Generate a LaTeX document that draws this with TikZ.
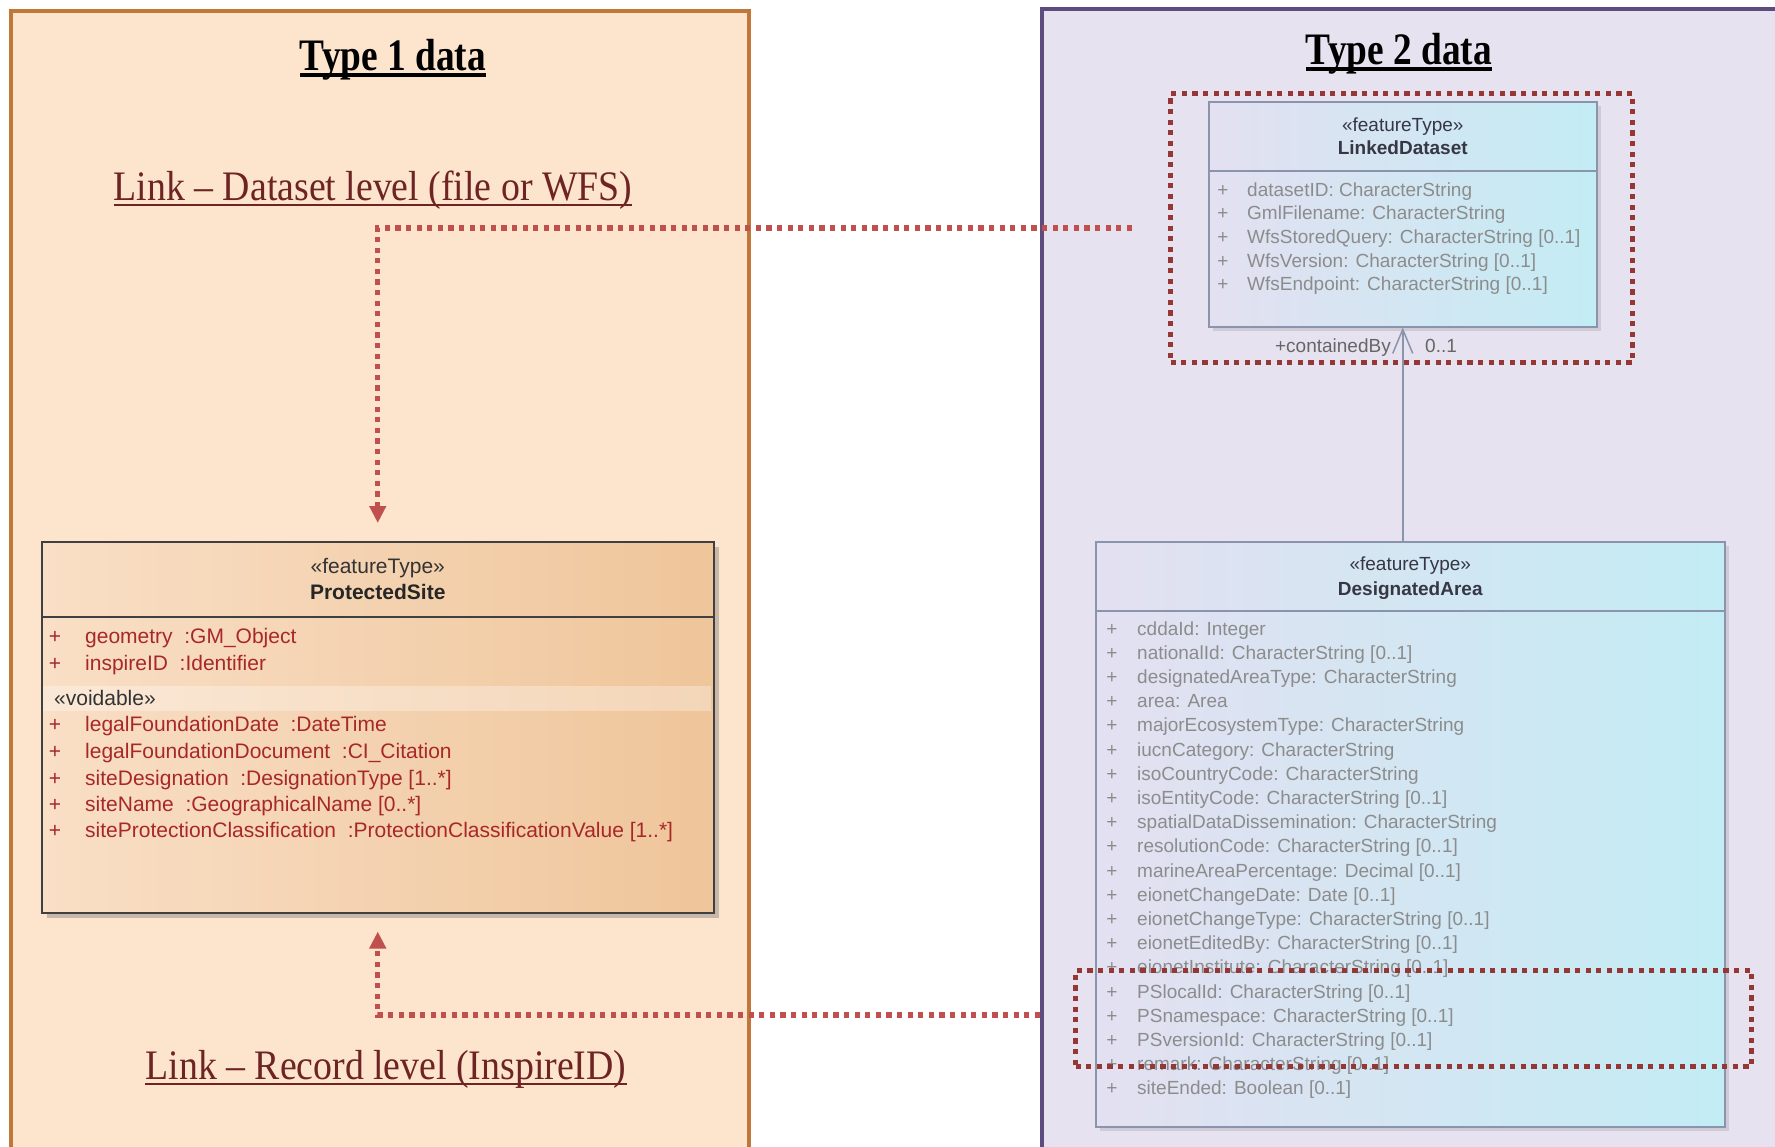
\documentclass[tikz,border=0pt]{standalone}
\usepackage{fontspec}
\setmainfont{Liberation Serif}
\newfontfamily\umlfont{Liberation Sans}
\usetikzlibrary{arrows.meta,shadows}
\definecolor{peachbg}{HTML}{FDE4CD}
\definecolor{peachline}{HTML}{C07838}
\definecolor{lavbg}{HTML}{E7E2EF}
\definecolor{lavline}{HTML}{5C4C80}
\definecolor{linkred}{HTML}{6E2424}
\definecolor{dotred}{HTML}{C0504D}
\definecolor{boxred}{HTML}{953735}
\definecolor{psleft}{HTML}{F9DFC6}
\definecolor{psright}{HTML}{EFC59A}
\definecolor{blleft}{HTML}{E3E0F1}
\definecolor{blright}{HTML}{C3ECF4}
\definecolor{blline}{HTML}{8A94AC}
\definecolor{psattr}{HTML}{A82828}
\definecolor{graytxt}{HTML}{8C8C8C}
\definecolor{headtxt}{HTML}{363644}
\tikzset{
  panel/.style={line width=4pt, inner sep=0pt, anchor=north west},
  titletxt/.style={inner sep=0pt, font=\fontsize{45}{54}\selectfont\bfseries, text=black},
  linktxt/.style={inner sep=0pt, font=\fontsize{42}{50}\selectfont, text=linkred},
  psbox/.style={draw=black!75, line width=1.5pt, left color=psleft, right color=psright, anchor=north west, inner sep=0pt,
    drop shadow={shadow xshift=5pt, shadow yshift=-5pt, opacity=0.35, fill=black!60}},
  bluebox/.style={draw=blline, line width=1.5pt, left color=blleft, right color=blright, anchor=north west, inner sep=0pt,
    drop shadow={shadow xshift=4pt, shadow yshift=-4pt, opacity=0.18, fill=black!60}},
  pstext/.style={inner sep=0pt, font=\umlfont\fontsize{21}{25}\selectfont},
  bltext/.style={inner sep=0pt, font=\umlfont\fontsize{19}{23}\selectfont},
  hlbox/.style={draw=boxred, line width=5.2pt, dash pattern=on 5.2pt off 5.4pt, anchor=north west, inner sep=0pt},
  linkarrow/.style={draw=dotred, line width=5.2pt, dash pattern=on 5.2pt off 5.4pt, -{Triangle[length=17pt,width=16pt]}},
  assoc/.style={draw=blline, line width=1.5pt, -{Straight Barb[length=24pt,width=20pt,line width=1.5pt]}}
}
\begin{document}
\begin{tikzpicture}[x=1pt,y=-1pt]
\useasboundingbox (0,0) rectangle (1775,1146);
\fill[white] (0,0) rectangle (1775,1146);
% panels
\node[panel, fill=peachbg, draw=peachline, minimum width=738pt, minimum height=1170pt] (p1) at (9,9) {};
\node[panel, fill=lavbg, draw=lavline, minimum width=760pt, minimum height=1170pt] (p2) at (1040,7) {};
% titles
\node[titletxt, anchor=base] (t1) at (393,70) {\scalebox{0.83}[1]{Type 1 data}};
\draw[line width=3.5pt] ([yshift=-5pt]t1.base west) -- ([yshift=-5pt]t1.base east);
\node[titletxt, anchor=base] (t2) at (1399,64) {\scalebox{0.83}[1]{Type 2 data}};
\draw[line width=3.5pt] ([yshift=-5pt]t2.base west) -- ([yshift=-5pt]t2.base east);
\node[linktxt, anchor=base] (l1) at (373,200) {\scalebox{0.9}[1]{Link – Dataset level (file or WFS)}};
\draw[linkred, line width=2.2pt] ([yshift=-5pt]l1.base west) -- ([yshift=-5pt]l1.base east);
\node[linktxt, anchor=base] (l2) at (386,1079) {\scalebox{0.9}[1]{Link – Record level (InspireID)}};
\draw[linkred, line width=2.2pt] ([yshift=-5pt]l2.base west) -- ([yshift=-5pt]l2.base east);
% ProtectedSite
\node[psbox, minimum width=672pt, minimum height=371pt] (ps) at (41,541) {};
\fill[white, opacity=0.3] (43,686) rectangle (711,711);
\draw[black!75, line width=1.5pt] (ps.west |- 0,617) -- (ps.east |- 0,617);
\node[pstext, anchor=base, text=black!80] (psst) at (ps.north |- 0,573) {«featureType»};
\node[pstext, anchor=base, text=black!85, font=\umlfont\fontsize{21}{25}\selectfont\bfseries] (psname) at (ps.north |- 0,599) {ProtectedSite};
\node[pstext, anchor=base west, text=black!80] (psvoid) at (54,705) {«voidable»};
\foreach \yy/\txt in {643/{geometry~~:GM\_Object}, 670/{inspireID~~:Identifier},
  731/{legalFoundationDate~~:DateTime}, 758/{legalFoundationDocument~~:CI\_Citation},
  785/{siteDesignation~~:DesignationType [1..*]}, 811/{siteName~~:GeographicalName [0..*]},
  837/{siteProtectionClassification~~:ProtectionClassificationValue [1..*]}}{
  \node[pstext, anchor=base, text=psattr] (psp\yy) at (55,\yy) {+};
  \node[pstext, anchor=base west, text=psattr] (psa\yy) at (85,\yy) {\txt};
}
% LinkedDataset
\node[bluebox, minimum width=388pt, minimum height=225pt] (ld) at (1208,101) {};
\draw[blline, line width=1.5pt] (ld.west |- 0,171) -- (ld.east |- 0,171);
\node[bltext, anchor=base, text=headtxt] (ldst) at (ld.north |- 0,131) {«featureType»};
\node[bltext, anchor=base, text=headtxt, font=\umlfont\fontsize{19}{23}\selectfont\bfseries] (ldname) at (ld.north |- 0,154) {LinkedDataset};
\foreach \txt [count=\i from 0] in {{datasetID: CharacterString}, {GmlFilename: CharacterString},
  {WfsStoredQuery: CharacterString [0..1]}, {WfsVersion: CharacterString [0..1]},
  {WfsEndpoint: CharacterString [0..1]}}{
  \node[bltext, anchor=base, text=graytxt] (ldp\i) at (1223,{196+\i*23.7}) {+};
  \node[bltext, anchor=base west, text=graytxt] (lda\i) at (1247,{196+\i*23.7}) {\txt};
}
% DesignatedArea
\node[bluebox, minimum width=629pt, minimum height=585pt] (da) at (1095,541) {};
\draw[blline, line width=1.5pt] (da.west |- 0,611) -- (da.east |- 0,611);
\node[bltext, anchor=base, text=headtxt] (dast) at (da.north |- 0,570) {«featureType»};
\node[bltext, anchor=base, text=headtxt, font=\umlfont\fontsize{19}{23}\selectfont\bfseries] (daname) at (da.north |- 0,595) {DesignatedArea};
\foreach \txt [count=\i from 0] in {{cddaId: Integer}, {nationalId: CharacterString [0..1]},
  {designatedAreaType: CharacterString}, {area: Area}, {majorEcosystemType: CharacterString},
  {iucnCategory: CharacterString}, {isoCountryCode: CharacterString},
  {isoEntityCode: CharacterString [0..1]}, {spatialDataDissemination: CharacterString},
  {resolutionCode: CharacterString [0..1]}, {marineAreaPercentage: Decimal [0..1]},
  {eionetChangeDate: Date [0..1]}, {eionetChangeType: CharacterString [0..1]},
  {eionetEditedBy: CharacterString [0..1]}, {eionetInstitute: CharacterString [0..1]},
  {PSlocalId: CharacterString [0..1]}, {PSnamespace: CharacterString [0..1]},
  {PSversionId: CharacterString [0..1]}, {remark: CharacterString [0..1]},
  {siteEnded: Boolean [0..1]}}{
  \node[bltext, anchor=base, text=graytxt] (dap\i) at (1112,{635+\i*24.2}) {+};
  \node[bltext, anchor=base west, text=graytxt] (daa\i) at (1137,{635+\i*24.2}) {\txt};
}
% association
\draw[assoc] (da.north -| ld.south) -- (ld.south);
\node[bltext, anchor=base east, text=black!60] (lcb) at (1391,352) {+containedBy};
\node[bltext, anchor=base west, text=black!60] (lmul) at (1425,352) {0..1};
% highlight boxes
\node[hlbox, minimum width=462pt, minimum height=269pt] (hl1) at (1168,91) {};
\node[hlbox, minimum width=676pt, minimum height=96pt] (hl2) at (1073,968) {};
% link connectors
\coordinate (c1s) at (1132,228);
\coordinate (c1e) at ([yshift=18pt]ps.north);
\draw[linkarrow] (c1s) -| (c1e);
\coordinate (c2s) at (p2.west |- 0,1015);
\coordinate (c2e) at ([yshift=-18pt]ps.south);
\draw[linkarrow] (c2s) -| (c2e);
\end{tikzpicture}
\end{document}
